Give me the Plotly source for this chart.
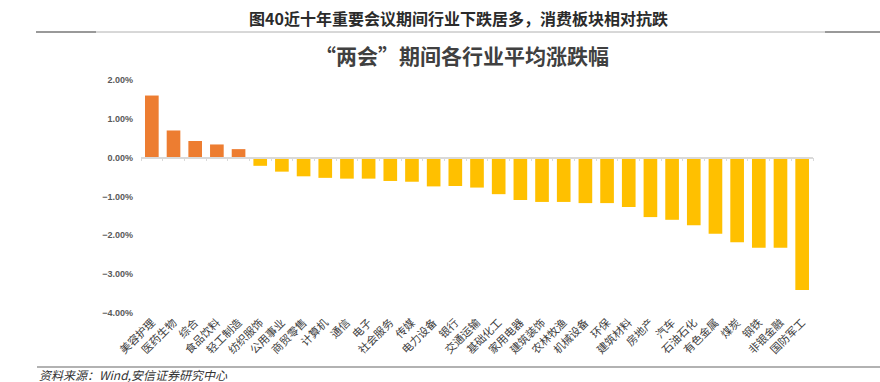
import plotly.graph_objects as go

categories = ["美容护理", "医药生物", "综合", "食品饮料", "轻工制造", "纺织服饰", "公用事业", "商贸零售",
              "计算机", "通信", "电子", "社会服务", "传媒", "电力设备", "银行", "交通运输", "基础化工",
              "家用电器", "建筑装饰", "农林牧渔", "机械设备", "环保", "建筑材料", "房地产", "汽车",
              "石油石化", "有色金属", "煤炭", "钢铁", "非银金融", "国防军工"]
values = [1.60, 0.70, 0.43, 0.34, 0.22, -0.21, -0.36, -0.48, -0.52, -0.54, -0.54, -0.60, -0.62, -0.74,
          -0.73, -0.77, -0.94, -1.09, -1.14, -1.14, -1.17, -1.17, -1.27, -1.53, -1.60, -1.74, -1.96,
          -2.18, -2.32, -2.32, -3.41]
values = [v / 100 for v in values]
y_ticks = [0.02, 0.01, 0.0, -0.01, -0.02, -0.03, -0.04]

header = "图40近十年重要会议期间行业下跌居多，消费板块相对抗跌"
title = "“两会”期间各行业平均涨跌幅"
source = "资料来源：Wind,安信证券研究中心"

W, H = 880, 382
L, R, T, B = 141, 67, 80, 69
PW, PH = W - L - R, H - T - B


def px(x):
    return (x - L) / PW


def py(y):
    return 1 - (y - T) / PH


colors = ["#ED7D31" if v >= 0 else "#FFC000" for v in values]

fig = go.Figure()
fig.add_trace(go.Bar(x=categories, y=values, marker=dict(color=colors, line=dict(width=0)),
                     hoverinfo="x+y", showlegend=False))
fig.add_trace(go.Scatter(x=[0], y=[0], xaxis="x2", mode="markers", marker=dict(opacity=0),
                         hoverinfo="skip", showlegend=False))

ymin, ymax = -0.04, 0.02
fig.update_layout(
    width=W, height=H,
    margin=dict(l=L, r=R, t=T, b=B),
    paper_bgcolor="white", plot_bgcolor="white",
    bargap=0.37,
    xaxis=dict(type="category", categoryorder="array", categoryarray=categories,
               range=[-0.5, len(categories) - 0.5],
               tickangle=-45, showline=False, ticks="", showgrid=False, automargin=False,
               tickfont=dict(family="Noto Sans CJK SC", size=11, color="#404040")),
    xaxis2=dict(overlaying="x", anchor="free", position=(0 - ymin) / (ymax - ymin),
                range=[-0.5, len(categories) - 0.5], showline=True, linecolor="#d9d9d9", linewidth=1.5,
                ticks="outside", ticklen=3, tickcolor="#d9d9d9", tickwidth=1,
                tickvals=[i - 0.5 for i in range(len(categories) + 1)],
                showticklabels=False, showgrid=False, zeroline=False),
    yaxis=dict(range=[ymin, ymax], tickvals=y_ticks, tickformat=".2%", showgrid=False,
               zeroline=False, showline=False, automargin=False, ticks="", ticklen=0,
               ticklabelstandoff=7,
               tickfont=dict(family="Liberation Sans", size=9, color="#595959", weight="bold")),
    font=dict(family="Noto Sans CJK SC"),
)

# header
fig.add_annotation(text=header, x=px(458), y=py(18), xref="paper", yref="paper",
                   showarrow=False, xanchor="center", yanchor="middle",
                   font=dict(family="Noto Sans CJK SC", size=16, color="#2b2b2b", weight="bold"))
# chart title
fig.add_annotation(text=title, x=px(462), y=py(55), xref="paper", yref="paper",
                   showarrow=False, xanchor="center", yanchor="middle",
                   font=dict(family="Noto Sans CJK SC", size=21, color="#404040", weight="bold"))
# source
fig.add_annotation(text=source, x=px(37), y=py(374), xref="paper", yref="paper",
                   showarrow=False, xanchor="left", yanchor="middle",
                   font=dict(family="Noto Sans CJK SC", size=12, color="#333333", style="italic"))

shapes = [
    dict(type="line", xref="paper", yref="paper", x0=px(36), x1=px(880), y0=py(32), y1=py(32),
         line=dict(color="#b0b0b0", width=1)),
    dict(type="line", xref="paper", yref="paper", x0=px(36), x1=px(96), y0=py(32), y1=py(32),
         line=dict(color="#999999", width=2)),
    dict(type="line", xref="paper", yref="paper", x0=px(825), x1=px(880), y0=py(32), y1=py(32),
         line=dict(color="#999999", width=2)),
    dict(type="line", xref="paper", yref="paper", x0=px(37), x1=px(880), y0=py(367), y1=py(367),
         line=dict(color="#666666", width=1.2)),
]
fig.update_layout(shapes=shapes)

fig.write_html("out.html", config={"displayModeBar": False},
               post_script="document.body.style.margin='0';document.body.style.padding='0';"
                           "document.body.style.overflow='hidden';")
